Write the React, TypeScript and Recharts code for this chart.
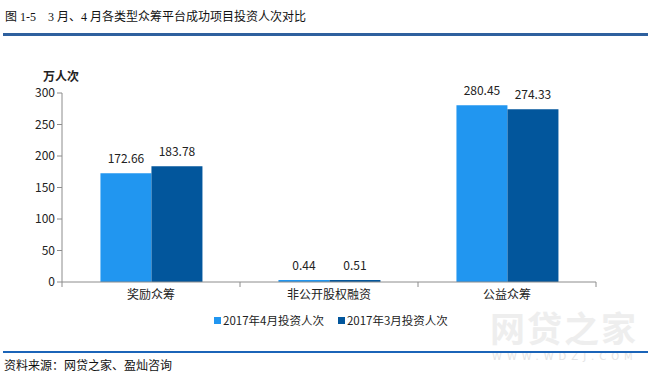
import { Bar, BarChart, LabelList, XAxis, YAxis } from "recharts";

const categories = ["奖励众筹", "非公开股权融资", "公益众筹"];
const april2017 = [172.66, 0.44, 280.45];
const march2017 = [183.78, 0.51, 274.33];
const yTicks = [0, 50, 100, 150, 200, 250, 300];

const SERIES = [
  { key: "apr", name: "2017年4月投资人次", color: "#2196F0", values: april2017 },
  { key: "mar", name: "2017年3月投资人次", color: "#02569C", values: march2017 },
];

const data = categories.map((name, i) => ({
  name,
  apr: april2017[i],
  mar: march2017[i],
}));

const FONT = '"Noto Sans CJK SC", "Noto Sans", sans-serif';
const AXIS = "#8c8c8c";

function CategoryTick(props: any) {
  const { x, y, payload, index } = props;
  const half = payload.offset ?? 0;
  const axisY = y - 8;
  return (
    <g>
      <line x1={x - half} x2={x - half} y1={axisY} y2={axisY + 5} stroke={AXIS} />
      {index === categories.length - 1 && (
        <line x1={x + half} x2={x + half} y1={axisY} y2={axisY + 5} stroke={AXIS} />
      )}
      <text x={x} y={y} dy="0.71em" textAnchor="middle" fill="#222" fontSize={12} fontFamily={FONT}>
        {payload.value}
      </text>
    </g>
  );
}

export default function App() {
  return (
    <div
      style={{
        position: "absolute",
        left: 0,
        top: 0,
        width: 652,
        height: 374,
        background: "#fff",
        overflow: "hidden",
        fontFamily: FONT,
      }}
    >
      <div
        style={{
          position: "absolute",
          left: 5,
          top: 11,
          fontSize: 12,
          lineHeight: 1,
          color: "#111",
          fontFamily: '"Liberation Serif", "Noto Sans CJK SC", serif',
          whiteSpace: "pre",
        }}
      >
        {"图 1-5    3 月、4 月各类型众筹平台成功项目投资人次对比"}
      </div>
      <div style={{ position: "absolute", left: 3, top: 33, width: 645, height: 3, background: "#2E609E" }} />

      <div
        style={{
          position: "absolute",
          left: 43,
          top: 67,
          fontSize: 12,
          fontWeight: "bold",
          color: "#222",
        }}
      >
        万人次
      </div>

      <div style={{ position: "absolute", left: 0, top: 0 }}>
        <BarChart
          width={652}
          height={374}
          data={data}
          margin={{ top: 93, right: 56, bottom: 62, left: 0 }}
          barCategoryGap="21.6%"
          barGap={0}
        >
          <XAxis
            dataKey="name"
            axisLine={{ stroke: AXIS }}
            tickLine={false}
            tick={<CategoryTick />}
            height={30}
            interval={0}
          />
          <YAxis
            domain={[0, 300]}
            ticks={yTicks}
            width={62}
            axisLine={{ stroke: AXIS }}
            tickLine={{ stroke: AXIS }}
            tickSize={5}
            tick={{ fill: "#222", fontSize: 12, fontFamily: FONT }}
          />
          {SERIES.map((s) => (
            <Bar
              key={s.key}
              dataKey={s.key}
              name={s.name}
              fill={s.color}
              minPointSize={2}
              isAnimationActive={false}
            >
              <LabelList
                dataKey={s.key}
                position="top"
                offset={10}
                fill="#222"
                fontSize={12}
                fontFamily={FONT}
              />
            </Bar>
          ))}
        </BarChart>
      </div>

      <div
        style={{
          position: "absolute",
          left: 214,
          top: 312,
          display: "flex",
          gap: 14,
          fontSize: 11.5,
          color: "#222",
        }}
      >
        {SERIES.map((s) => (
          <div key={s.key} style={{ display: "flex", alignItems: "center", gap: 2 }}>
            <span style={{ width: 7, height: 7, background: s.color, display: "inline-block" }} />
            <span>{s.name}</span>
          </div>
        ))}
      </div>

      <div
        style={{
          position: "absolute",
          left: 490,
          top: 309,
          fontSize: 35,
          lineHeight: 1,
          fontWeight: "bold",
          color: "#eeeeee",
          letterSpacing: 2,
        }}
      >
        网贷之家
      </div>
      <div
        style={{
          position: "absolute",
          left: 492,
          top: 352,
          fontSize: 10,
          lineHeight: 1,
          color: "#e4e4e4",
          letterSpacing: 5,
          fontFamily: '"DejaVu Sans", sans-serif',
        }}
      >
        WWW.WDZJ.COM
      </div>

      <div style={{ position: "absolute", left: 3, top: 351, width: 645, height: 2, background: "#1B64B8" }} />
      <div style={{ position: "absolute", left: 4, top: 356, fontSize: 12, color: "#111" }}>
        资料来源：网贷之家、盈灿咨询
      </div>
    </div>
  );
}
